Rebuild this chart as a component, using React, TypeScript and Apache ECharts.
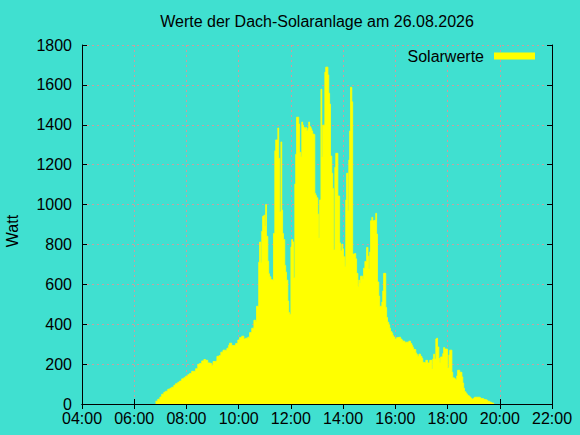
import React, { useEffect, useRef } from "react";
import * as echarts from "echarts";

const FONT = '"Liberation Sans", Arial, Helvetica, sans-serif';

const titleText = "Werte der Dach-Solaranlage am 26.08.2026";
const yAxisName = "Watt";
const seriesName = "Solarwerte";

const xTickLabels = ["04:00", "06:00", "08:00", "10:00", "12:00", "14:00", "16:00", "18:00", "20:00", "22:00"];
const yMin = 0;
const yMax = 1800;
const yStep = 200;

const times = [
  "06:49", "06:54", "06:59", "07:03", "07:08", "07:12", "07:17", "07:22", "07:26", "07:31",
  "07:35", "07:40", "07:44", "07:49", "07:54", "07:58", "08:03", "08:07", "08:12", "08:17",
  "08:21", "08:26", "08:30", "08:35", "08:40", "08:44", "08:49", "08:53", "08:58", "09:01",
  "09:06", "09:10", "09:15", "09:19", "09:24", "09:29", "09:33", "09:37", "09:39", "09:44",
  "09:53", "09:58", "10:02", "10:07", "10:12", "10:16", "10:21", "10:25", "10:30", "10:35",
  "10:39", "10:41", "10:46", "10:48", "10:51", "10:53", "10:55", "10:58", "11:00", "11:02",
  "11:04", "11:07", "11:09", "11:11", "11:14", "11:16", "11:20", "11:23", "11:25", "11:30",
  "11:32", "11:34", "11:37", "11:39", "11:41", "11:43", "11:46", "11:48", "11:50", "11:53",
  "11:55", "11:57", "12:00", "12:02", "12:04", "12:06", "12:09", "12:11", "12:13", "12:18",
  "12:20", "12:23", "12:25", "12:27", "12:29", "12:32", "12:34", "12:36", "12:39", "12:41",
  "12:43", "12:46", "12:48", "12:50", "12:52", "12:55", "12:57", "12:59", "13:02", "13:04",
  "13:06", "13:09", "13:11", "13:13", "13:18", "13:20", "13:25", "13:27", "13:29", "13:31",
  "13:34", "13:36", "13:38", "13:41", "13:43", "13:48", "13:52", "13:54", "13:57", "13:59",
  "14:01", "14:04", "14:06", "14:08", "14:11", "14:13", "14:15", "14:17", "14:20", "14:22",
  "14:24", "14:29", "14:31", "14:34", "14:36", "14:38", "14:40", "14:45", "14:47", "14:50",
  "14:54", "14:57", "14:59", "15:01", "15:03", "15:06", "15:08", "15:10", "15:15", "15:17",
  "15:19", "15:22", "15:24", "15:29", "15:31", "15:33", "15:38", "15:40", "15:42", "15:45",
  "15:47", "15:49", "15:52", "15:54", "15:56", "15:59", "16:03", "16:05", "16:12", "16:15",
  "16:17", "16:22", "16:24", "16:31", "16:35", "16:38", "16:40", "16:42", "16:47", "16:49",
  "16:51", "16:54", "16:58", "17:01", "17:03", "17:05", "17:10", "17:14", "17:19", "17:24",
  "17:26", "17:28", "17:30", "17:33", "17:35", "17:37", "17:40", "17:42", "17:44", "17:49",
  "17:51", "17:53", "17:58", "18:00", "18:03", "18:05", "18:10", "18:12", "18:16", "18:19",
  "18:21", "18:23", "18:28", "18:33", "18:35", "18:37", "18:39", "18:42", "18:44", "18:46",
  "18:49", "18:51", "18:53", "18:55", "19:00", "19:02", "19:14", "19:16", "19:23", "19:28",
  "19:32", "19:37", "19:41", "19:46",
];

const watts = [
  14, 24, 35, 49, 59, 64, 74, 79, 84, 94,
  102, 109, 115, 126, 132, 139, 147, 153, 164, 164,
  177, 199, 203, 216, 223, 219, 206, 203, 193, 213,
  216, 239, 243, 260, 270, 270, 280, 295, 305, 293,
  303, 321, 333, 340, 326, 330, 335, 358, 380, 420,
  412, 490, 711, 812, 711, 866, 941, 947, 892, 1000,
  841, 716, 653, 638, 624, 621, 855, 1270, 1324, 1384,
  1232, 964, 1314, 972, 855, 825, 695, 661, 621, 516,
  459, 450, 787, 825, 813, 633, 1103, 1252, 1438, 1404,
  1262, 1240, 1414, 1398, 1386, 1379, 1386, 1370, 1383, 1414,
  1390, 1380, 1369, 1354, 1351, 1056, 1046, 1034, 952, 832,
  1023, 1578, 1240, 1398, 1664, 1689, 1650, 1558, 1504, 1243,
  1157, 1081, 772, 1187, 1257, 1043, 808, 768, 802, 778,
  738, 691, 1023, 1157, 969, 1223, 1369, 1588, 1515, 752,
  755, 728, 655, 591, 621, 607, 641, 627, 681, 715,
  785, 741, 678, 762, 919, 936, 919, 922, 956, 852,
  612, 541, 490, 511, 567, 655, 484, 434, 410, 397,
  380, 363, 356, 343, 336, 326, 333, 335, 326, 320,
  315, 306, 310, 315, 303, 293, 283, 273, 256, 248,
  239, 250, 239, 229, 209, 206, 219, 206, 219, 176,
  226, 250, 226, 326, 330, 286, 229, 209, 236, 253,
  283, 276, 275, 181, 246, 270, 159, 131, 126, 120,
  141, 169, 159, 136, 105, 79, 62, 55, 49, 42,
  39, 35, 30, 25, 30, 34, 32, 27, 22, 19,
  14, 9, 5, 0,
];

const toMin = (t: string) => {
  const [h, m] = t.split(":").map(Number);
  return h * 60 + m;
};
const fmt = (v: number) => {
  const h = Math.floor(v / 60);
  const m = Math.round(v % 60);
  return `${String(h).padStart(2, "0")}:${String(m).padStart(2, "0")}`;
};

export default function App() {
  const ref = useRef<HTMLDivElement>(null);
  useEffect(() => {
    const chart = echarts.init(ref.current!, null, { renderer: "svg" });
    const xMin = toMin(xTickLabels[0]);
    const xMax = toMin(xTickLabels[xTickLabels.length - 1]);
    const xStep = toMin(xTickLabels[1]) - xMin;
    const data = times.map((t, i) => [toMin(t), watts[i]]);
    const axisLine = { show: true, lineStyle: { color: "#000", width: 1 } };
    const tick = { show: true, inside: true, length: 5, lineStyle: { color: "#000", width: 1 } };
    const grid = { show: true, lineStyle: { color: "#c8a0a0", width: 1, type: [2, 3] as any } };
    const label = { color: "#000", fontSize: 16, fontFamily: FONT };
    chart.setOption({
      animation: false,
      backgroundColor: "#40E0D0",
      textStyle: { fontFamily: FONT },
      grid: { left: 82, right: 28, top: 45, bottom: 31, containLabel: false, outerBoundsMode: "none" },
      graphic: [
        {
          type: "text",
          x: 317,
          y: 21,
          style: { text: titleText, textAlign: "center", textVerticalAlign: "middle", font: `16px ${FONT}`, fill: "#000" },
        },
        {
          type: "text",
          x: 12,
          y: 231,
          rotation: Math.PI / 2,
          style: { text: yAxisName, textAlign: "center", textVerticalAlign: "middle", font: `16px ${FONT}`, fill: "#000" },
        },
      ],
      legend: {
        data: [seriesName],
        right: 40,
        top: 43,
        align: "right",
        icon: "rect",
        itemWidth: 41,
        itemHeight: 7,
        textStyle: { ...label, padding: [0, 5, 0, 0] },
        selectedMode: false,
      },
      xAxis: [
        {
          type: "value",
          min: xMin,
          max: xMax,
          interval: xStep,
          position: "bottom",
          axisLine,
          axisTick: tick,
          axisLabel: { ...label, margin: 6, formatter: (v: number) => fmt(v) },
          splitLine: grid,
        },
        {
          type: "value",
          min: xMin,
          max: xMax,
          interval: xStep,
          position: "top",
          axisLine,
          axisTick: tick,
          axisLabel: { show: false },
          splitLine: { show: false },
        },
      ],
      yAxis: [
        {
          type: "value",
          min: yMin,
          max: yMax,
          interval: yStep,
          position: "left",
          axisLine,
          axisTick: tick,
          axisLabel: { ...label, margin: 10, formatter: (v: number) => String(v) },
          splitLine: grid,
        },
        {
          type: "value",
          min: yMin,
          max: yMax,
          interval: yStep,
          position: "right",
          axisLine,
          axisTick: tick,
          axisLabel: { show: false },
          splitLine: { show: false },
        },
      ],
      series: [
        {
          name: seriesName,
          type: "line",
          step: "end",
          data,
          color: "#ffff00",
          showSymbol: false,
          symbol: "none",
          lineStyle: { color: "#ffff00", width: 0.8 },
          areaStyle: { color: "#ffff00", opacity: 1 },
          itemStyle: { color: "#ffff00" },
        },
      ],
    });
    return () => chart.dispose();
  }, []);
  return <div ref={ref} style={{ position: "fixed", left: 0, top: 0, width: 580, height: 435 }} />;
}
